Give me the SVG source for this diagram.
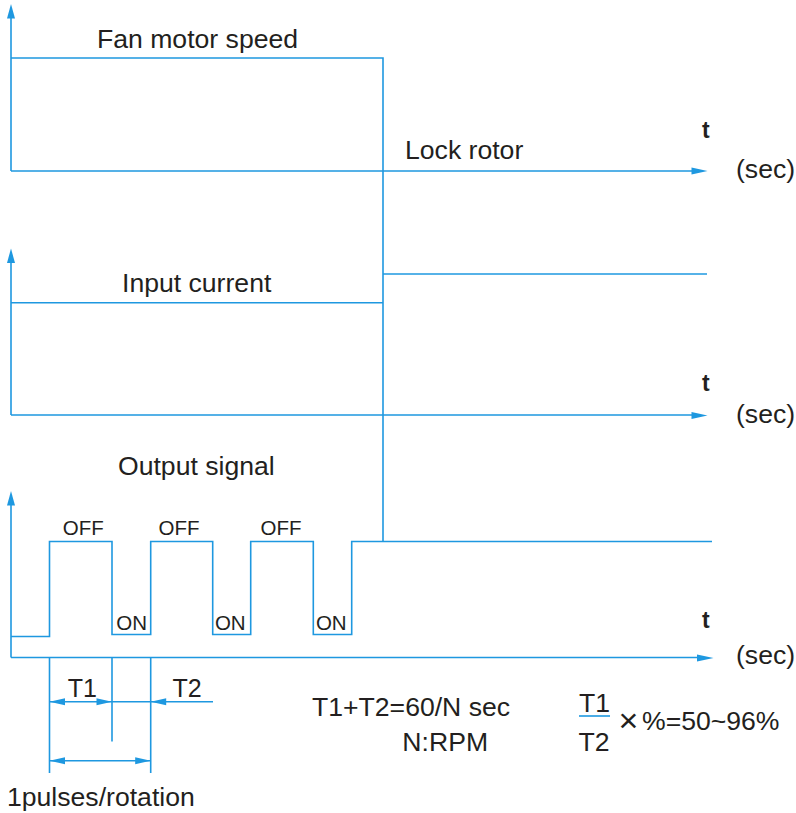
<svg xmlns="http://www.w3.org/2000/svg" width="796" height="813" viewBox="0 0 796 813">
<style>
.ln{fill:none;stroke:#1e98e0;stroke-width:1.6}
.ah{fill:#1e98e0}
text{font-family:"Liberation Sans",Arial,sans-serif;fill:#231f20}
.lg{font-size:26.6px}
.md{font-size:25px}
.sm{font-size:20.5px}
.tb{font-size:23px;font-weight:bold}
.x{font-size:34px}
</style>
<rect width="796" height="813" fill="#fff"/>
<g id="connectors">
  <path class="ln" d="M11,171 V16 M11,171 H695"/>
  <polygon class="ah" points="11,4 7,18.5 15,18.5"/>
  <polygon class="ah" points="707.5,171 691.5,167.5 691.5,174.5"/>
  <path class="ln" d="M11,415 V261 M11,415 H695"/>
  <polygon class="ah" points="11,248.5 7,263 15,263"/>
  <polygon class="ah" points="707.5,415.5 691.5,412 691.5,419"/>
  <path class="ln" d="M11,657.5 V504 M11,657.5 H700"/>
  <polygon class="ah" points="11,491 7,505.5 15,505.5"/>
  <polygon class="ah" points="713.5,658 697,654.5 697,661.5"/>
  <path class="ln" d="M11,58 H383 V541.5"/>
  <path class="ln" d="M383,274 H707"/>
  <path class="ln" d="M11,302.7 H383"/>
  <path class="ln" d="M11,636.5 H49.5 V541.5 H112 V634.5 H150.7 V541.5 H212.7 V634.5 H250.7 V541.5 H313.3 V634.5 H351.7 V541.5 H712"/>
  <path class="ln" d="M49.5,657.5 V773 M112,657.5 V741.5 M150.7,657.5 V773"/>
  <path class="ln" d="M49.5,701.7 H213"/>
  <polygon class="ah" points="49.5,701.7 65,698.2 65,705.2"/>
  <polygon class="ah" points="112,701.7 96.5,698.2 96.5,705.2"/>
  <polygon class="ah" points="150.7,701.7 166.2,698.2 166.2,705.2"/>
  <path class="ln" d="M49.5,760.7 H150.7"/>
  <polygon class="ah" points="49.5,760.7 65,757.2 65,764.2"/>
  <polygon class="ah" points="150.7,760.7 135.2,757.2 135.2,764.2"/>
  <path class="ln" d="M579,716 H610"/>
</g>
<g id="labels">
  <text class="lg" x="97" y="48.3">Fan motor speed</text>
  <text class="lg" x="405" y="159.3">Lock rotor</text>
  <text class="tb" x="702" y="138.3">t</text>
  <text class="lg" x="736" y="178">(sec)</text>
  <text class="lg" x="122" y="292.3">Input current</text>
  <text class="tb" x="702" y="390.7">t</text>
  <text class="lg" x="736" y="423">(sec)</text>
  <text class="lg" x="118" y="475">Output signal</text>
  <text class="tb" x="702" y="628.3">t</text>
  <text class="lg" x="736" y="664">(sec)</text>
  <text class="sm" x="83.3" y="535" text-anchor="middle">OFF</text>
  <text class="sm" x="179" y="535" text-anchor="middle">OFF</text>
  <text class="sm" x="281" y="535" text-anchor="middle">OFF</text>
  <text class="sm" x="131.7" y="630" text-anchor="middle">ON</text>
  <text class="sm" x="230.3" y="630" text-anchor="middle">ON</text>
  <text class="sm" x="331.3" y="630" text-anchor="middle">ON</text>
  <text class="md" x="82.3" y="697.3" text-anchor="middle">T1</text>
  <text class="md" x="187" y="697.3" text-anchor="middle">T2</text>
  <text class="lg" x="7" y="805.7">1pulses/rotation</text>
  <text class="lg" x="312" y="716">T1+T2=60/N sec</text>
  <text class="lg" x="445.2" y="751" text-anchor="middle">N:RPM</text>
  <text class="lg" x="594.5" y="711.7" text-anchor="middle">T1</text>
  <text class="lg" x="594" y="751" text-anchor="middle">T2</text>
  <text class="x" x="628.5" y="732" text-anchor="middle">×</text>
  <text class="lg" x="642" y="730">%=50~96%</text>
</g>
</svg>
